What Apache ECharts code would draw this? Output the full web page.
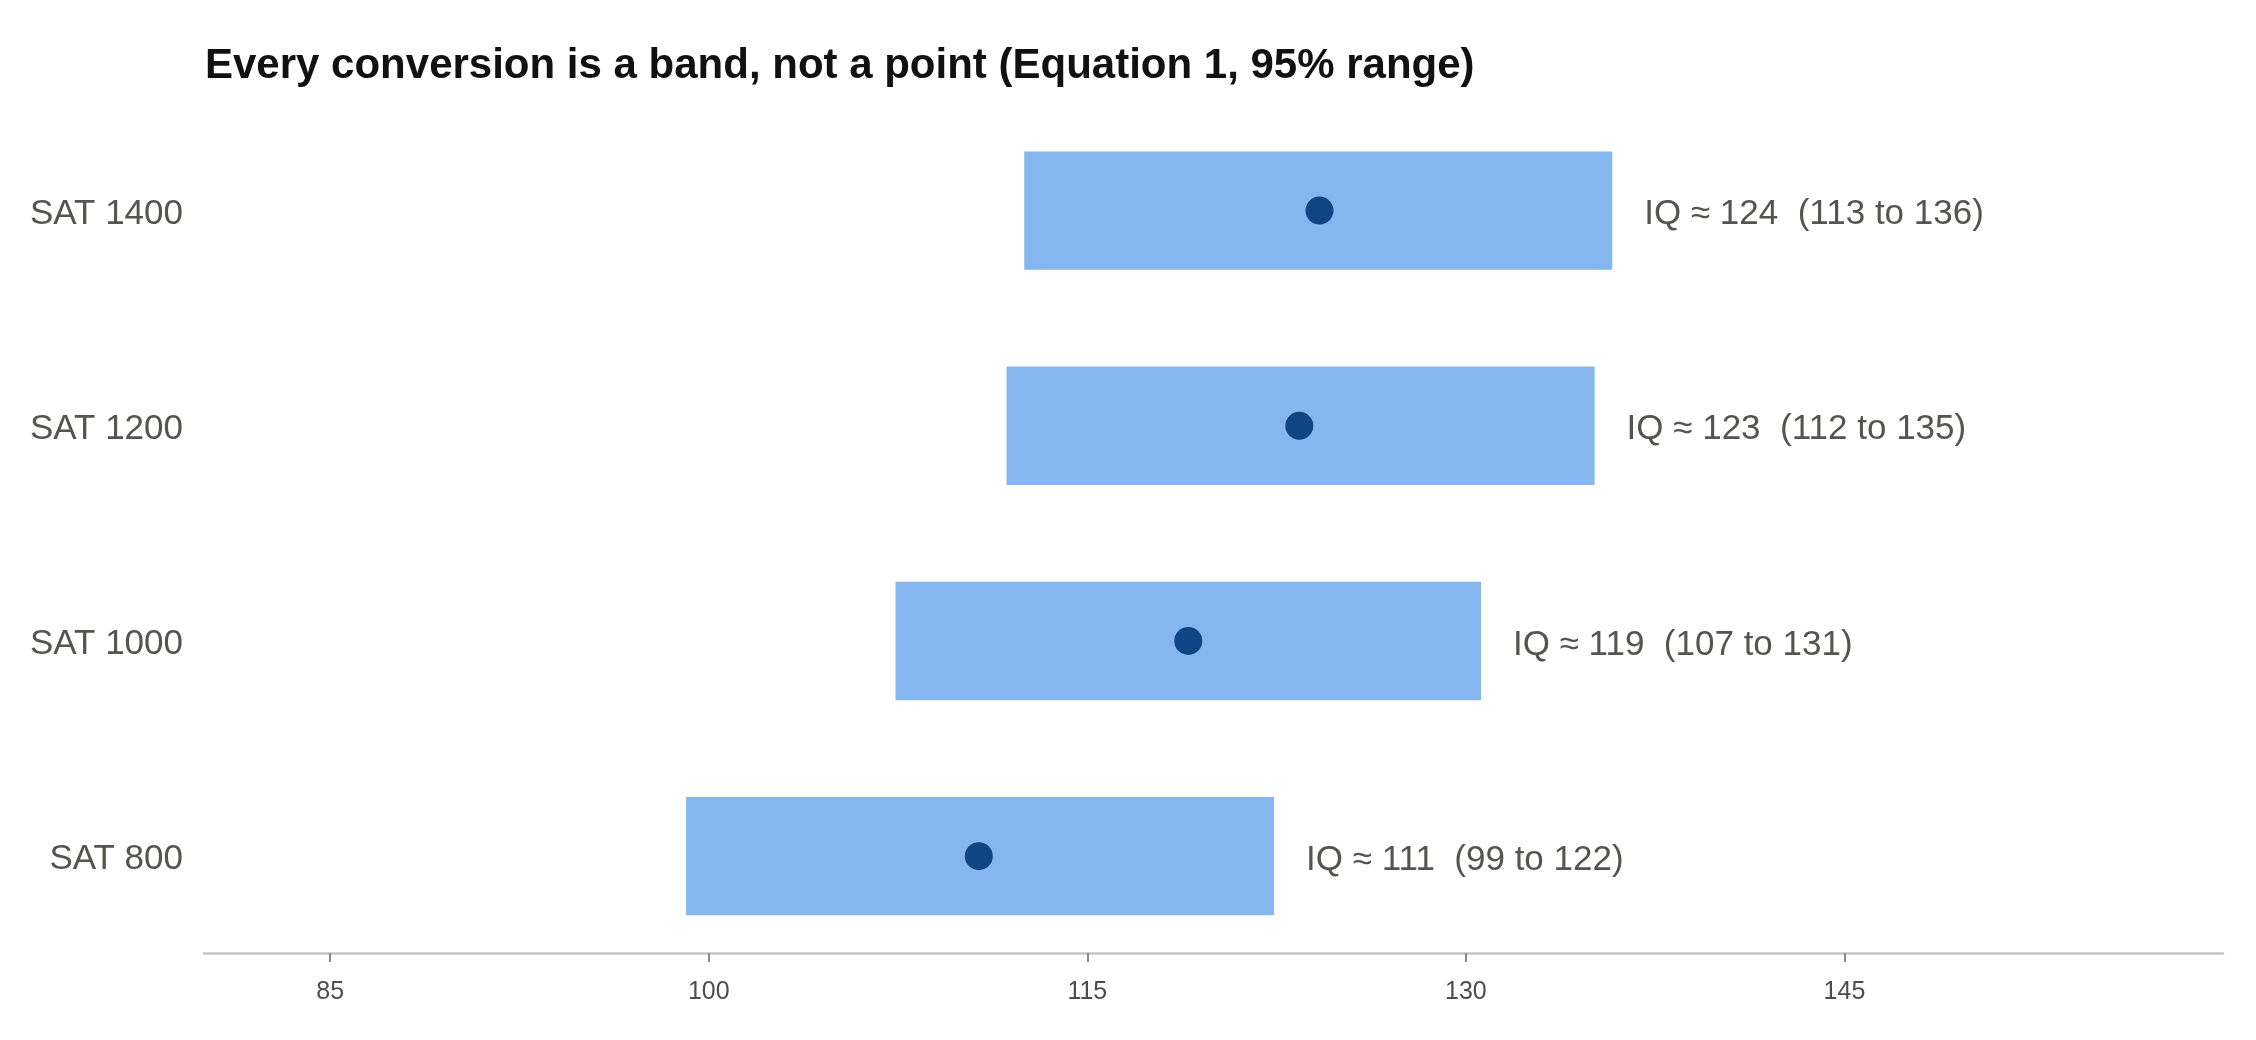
<!DOCTYPE html>
<html>
<head>
<meta charset="utf-8">
<script src="https://cdn.jsdelivr.net/npm/echarts@6/dist/echarts.min.js"></script>
<style>
  html, body { margin: 0; padding: 0; background: #fff; }
  #chart { width: 2256px; height: 1040px; }
</style>
</head>
<body>
<div id="chart"></div>
<script>
// rows bottom to top
const categories = ['SAT 800', 'SAT 1000', 'SAT 1200', 'SAT 1400']
const iqMid = [110.7, 119.0, 123.4, 124.2]
const iqLow = [99.1, 107.4, 111.8, 112.5]
const iqHigh = [122.4, 130.6, 135.1, 135.8]
const xTicks = [85, 100, 115, 130, 145]

const FONT = '"Liberation Sans", Arial, Helvetica, sans-serif'

const chartDom = document.getElementById('chart')
const myChart = echarts.init(chartDom)

const bandData = categories.map((c, i) => [i, iqLow[i], iqHigh[i]])
const dotData = categories.map((c, i) => [iqMid[i], i])

const option = {
  animation: false,
  title: {
    text: 'Every conversion is a band, not a point (Equation 1, 95% range)',
    left: 205,
    top: 45,
    padding: 0,
    textStyle: { fontFamily: FONT, fontSize: 42, fontWeight: 'bold', color: '#111' }
  },
  grid: { left: 204, right: 33, top: 103, bottom: 87 },
  xAxis: {
    type: 'value',
    min: 80,
    max: 160,
    splitLine: { show: false },
    axisLine: { show: true, onZero: false, lineStyle: { color: '#c6c6c2', width: 2.5 } },
    axisTick: { show: true, customValues: xTicks, length: 9, lineStyle: { color: '#8a8a8a', width: 2 } },
    axisLabel: {
      customValues: xTicks,
      margin: 27,
      fontFamily: FONT,
      fontSize: 25,
      color: '#4d4d4d'
    }
  },
  yAxis: {
    type: 'value',
    min: -0.45,
    max: 3.5,
    splitLine: { show: false },
    axisLine: { show: false },
    axisTick: { show: false },
    axisLabel: {
      customValues: [0, 1, 2, 3],
      formatter: v => '{s|' + categories[Math.round(v)] + '}',
      margin: 21,
      rich: {
        s: {
          fontFamily: FONT,
          fontSize: 35,
          color: '#555550',
          padding: [7, 0, 0, 0]
        }
      }
    }
  },
  series: [
    {
      type: 'custom',
      data: bandData,
      encode: { x: [1, 2], y: 0 },
      renderItem: (params, api) => {
        const idx = api.value(0)
        const lo = api.value(1)
        const hi = api.value(2)
        const start = api.coord([lo, idx])
        const end = api.coord([hi, idx])
        const h = api.size([0, 0.55])[1]
        const mid = iqMid[idx]
        const txt = 'IQ \u2248 ' + Math.round(mid) + '  (' + Math.round(lo) + ' to ' + Math.round(hi) + ')'
        return {
          type: 'group',
          children: [
            {
              type: 'rect',
              shape: { x: start[0], y: start[1] - h / 2, width: end[0] - start[0], height: h },
              style: { fill: '#86b6ef' }
            },
            {
              type: 'text',
              style: {
                text: txt,
                x: end[0] + 32,
                y: start[1] + 4,
                fill: '#555550',
                font: '35px ' + FONT,
                align: 'left',
                verticalAlign: 'middle'
              }
            }
          ]
        }
      }
    },
    {
      type: 'scatter',
      data: dotData,
      symbol: 'circle',
      symbolSize: 28,
      itemStyle: { color: '#0f4584', opacity: 1 },
      z: 5
    }
  ]
}

option && myChart.setOption(option)
</script>
</body>
</html>
